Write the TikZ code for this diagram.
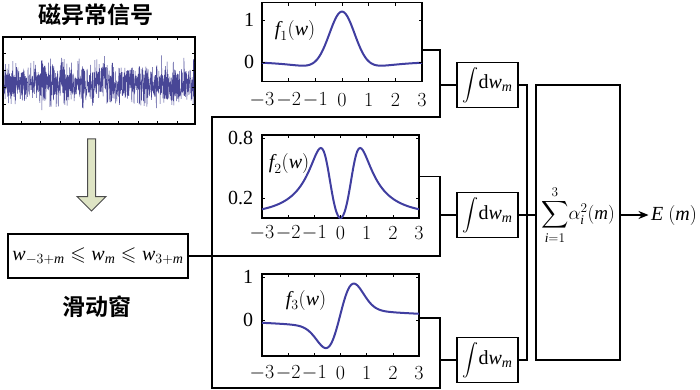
\RequirePackage{fix-cm}
\documentclass[tikz,border=0pt]{standalone}
\usepackage{amsmath,amssymb}
\usepackage{fontspec}
\setmainfont{Liberation Serif}
\newfontfamily\cjk{Noto Sans CJK SC}[BoldFont={Noto Sans CJK SC Bold}]
\usetikzlibrary{arrows.meta,shapes.arrows}

\definecolor{curveblue}{RGB}{64,62,160}
\definecolor{noiseblue}{RGB}{72,70,150}
\definecolor{arrowfill}{RGB}{222,228,196}

\newcommand{\vi}[1]{\textit{#1}}

\begin{document}
\begin{tikzpicture}[x=1pt, y=-1pt, line width=1.2pt,
    font=\fontsize{20}{24}\selectfont,
    plotframe/.style={draw, line width=1.4pt, inner sep=0pt, outer sep=0pt},
    opbox/.style={draw, line width=1.4pt, minimum width=61, minimum height=45, inner sep=0pt, outer sep=0pt},
    hanzi/.style={font=\cjk\bfseries\fontsize{23}{26}\selectfont},
    curve/.style={draw=curveblue, line width=2pt, smooth},
    tick/.style={line width=0.6pt}
  ]
  \useasboundingbox (0,0) rectangle (700,390);

  % input signal
  \node[hanzi] (title) at (96,15) {磁异常信号};
  \node[plotframe, minimum width=192, minimum height=87] (noise) at (99,80.5) {};
  \pgfmathsetseed{12}
  \begin{scope}
    \clip (noise.south west) rectangle (noise.north east);
    \draw[noiseblue, line width=0.5pt] plot[domain=4:194, samples=1100]
      (\x, {84 + 10*(rand+rand+rand) - 7*exp(-((\x-102)/5)^2)});
  \end{scope}
  \foreach \t in {21,40.5,...,178} {
    \draw[tick] (\t,37) -- ++(0,3) (\t,124) -- ++(0,-3);
  }
  \foreach \t in {53,70,...,110} {
    \draw[tick] (3,\t) -- ++(3,0) (195,\t) -- ++(-3,0);
  }

  \node[single arrow, draw=black!70, fill=arrowfill, rotate=-90, line width=1pt,
        minimum height=72, inner sep=3.5pt, single arrow head extend=10.5pt] (down) at (91.5,173) {};

  % sliding window
  \node[draw, line width=1.4pt, minimum width=180, minimum height=44, inner sep=0pt] (win) at (98,256)
    {$\vi{w}_{-3+\vi{m}}\leqslant\vi{w}_{\vi{m}}\leqslant\vi{w}_{3+\vi{m}}$};
  \node[hanzi] (wname) at (97,307) {滑动窗};

  % wavelet plots
  \node[plotframe, minimum width=160, minimum height=79] (p1) at (342,42) {};
  \node[plotframe, minimum width=157, minimum height=83] (p2) at (340.5,176.5) {};
  \node[plotframe, minimum width=157, minimum height=82] (p3) at (340.5,315) {};

  \draw[curve] plot[domain=-3:3, samples=121]
    ({342+26.67*\x}, {62-42*(1.37*exp(-(\x)^2/0.45) - 0.17*exp(-(\x)^2/4))});
  \draw[curve] plot[domain=-3:3, samples=121]
    ({340.5+26.17*\x}, {218-100*(2.49*(\x)^2/(1+3.16*(\x)^4))});
  \draw[curve] plot[domain=-3:3, samples=121]
    ({340.5+26.17*\x}, {320-43*(2*\x*exp(-2*(\x)^2) + 0.35*\x/(1+(\x)^2) + 0.1*exp(-2*(\x)^2) + 0.04)});

  \foreach \u [count=\k] in {-3,...,3} {
    \draw[tick] ({342+26.67*\u},3) -- ++(0,3) ({342+26.67*\u},81) -- ++(0,-3);
    \draw[tick] ({340.5+26.17*\u},135) -- ++(0,3) ({340.5+26.17*\u},218) -- ++(0,-3);
    \draw[tick] ({340.5+26.17*\u},274) -- ++(0,3) ({340.5+26.17*\u},356) -- ++(0,-3);
    \node (xa\k) at ({342+26.67*\u},100) {$\u$};
    \node (xb\k) at ({340.5+26.17*\u},233) {$\u$};
    \node (xc\k) at ({340.5+26.17*\u},373) {$\u$};
  }
  \foreach \yy in {20,62} \draw[tick] (262,\yy) -- ++(3,0) (422,\yy) -- ++(-3,0);
  \foreach \yy in {138,198} \draw[tick] (262,\yy) -- ++(3,0) (419,\yy) -- ++(-3,0);
  \foreach \yy in {277,320} \draw[tick] (262,\yy) -- ++(3,0) (419,\yy) -- ++(-3,0);

  \node[anchor=east] (ya1) at (258,20) {1};
  \node[anchor=east] (ya0) at (258,62) {0};
  \node[anchor=east] (yb8) at (257,138) {0.8};
  \node[anchor=east] (yb2) at (257,198) {0.2};
  \node[anchor=east] (yc1) at (257,277) {1};
  \node[anchor=east] (yc0) at (257,320) {0};

  \node (f1) at (295,31) {$\vi{f}_1(\vi{w})$};
  \node (f2) at (289,164) {$\vi{f}_2(\vi{w})$};
  \node (f3) at (306,300) {$\vi{f}_3(\vi{w})$};

  % branches
  \coordinate (c1) at (440,117);
  \coordinate (c2) at (440,256);
  \coordinate (c3) at (440,388);
  \coordinate (b1) at (212,117);
  \coordinate (b2) at (212,256);
  \coordinate (b3) at (212,388);

  \draw ([yshift=-8pt]p1.east) -| (c1) -- (b1) -- (b3) -- (c3) |- ([yshift=-3pt]p3.east);
  \draw (p2.east) -| (c2) -- (b2);
  \draw (win.east) -- (b2);

  % integration and energy
  \node[opbox] (int1) at (487.5,85) {{\fontsize{16}{16}\selectfont$\displaystyle\int$}d$\vi{w}_{\vi{m}}$};
  \node[opbox] (int2) at (487.5,215) {{\fontsize{16}{16}\selectfont$\displaystyle\int$}d$\vi{w}_{\vi{m}}$};
  \node[opbox] (int3) at (487.5,360) {{\fontsize{16}{16}\selectfont$\displaystyle\int$}d$\vi{w}_{\vi{m}}$};
  \node[draw, line width=1.4pt, minimum width=84, minimum height=275, outer sep=0pt] (sumbox) at (578,222.5) {};
  \node[inner sep=0pt, font=\fontsize{19}{22}\selectfont] (sumtxt) at (578,215)
    {$\displaystyle\sum_{\vi{i}=1}^{3}\!\alpha_{\vi{i}}^{2}(\vi{m})$};
  \node[inner sep=2pt] (energy) at (674,215) {$\vi{E}\ (\vi{m})$};

  \draw (int1.west -| c1) -- (int1.west);
  \draw (int2.west -| c1) -- (int2.west);
  \draw (int3.west -| c1) -- (int3.west);
  \draw (int1.east) -- ++(9,0) |- (int3.east);
  \draw (int2.east) -- (int2.east -| sumbox.west);
  \draw[-{Stealth[length=10pt,width=8pt]}] (sumbox.east |- sumtxt) -- (energy.west);
\end{tikzpicture}
\end{document}
